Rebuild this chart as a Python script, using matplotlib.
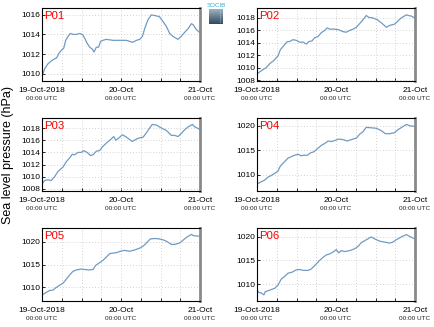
import numpy as np
import matplotlib
matplotlib.use("Agg")
import matplotlib.pyplot as plt
import matplotlib.dates as mdates
import datetime as dt

plt.rcParams['font.family'] = ['Liberation Sans', 'DejaVu Sans']

# ---------------- data (hours since 19-Oct-2018 00:00 UTC, hPa) ----------------
p01_h = [0.0, 0.8, 1.8, 2.8, 3.8, 4.4, 5.2, 5.9, 6.6, 7.2, 7.9, 8.6, 9.6, 10.4, 11.4, 12.3,
         13.0, 13.7, 14.5, 15.3, 15.8, 16.5, 17.2, 17.8, 18.5, 19.5, 21.6, 23.6, 25.6, 26.6,
         27.6, 28.7, 29.7, 30.5, 31.2, 32.2, 33.2, 34.7, 35.7, 36.8, 37.8, 38.8, 39.8, 41.3,
         42.3, 43.3, 44.4, 45.4, 45.9, 46.9, 47.9]
p01_v = [1009.7, 1010.5, 1011.0, 1011.3, 1011.5, 1011.6, 1012.1, 1012.4, 1012.6, 1013.4, 1013.8,
         1014.1, 1014.0, 1014.0, 1014.1, 1014.0, 1013.6, 1013.1, 1012.7, 1012.5, 1012.2, 1012.7,
         1012.7, 1013.3, 1013.4, 1013.5, 1013.4, 1013.4, 1013.4, 1013.3, 1013.2, 1013.4, 1013.5,
         1013.8, 1014.6, 1015.5, 1016.0, 1015.9, 1015.8, 1015.3, 1014.8, 1014.1, 1013.8, 1013.5,
         1013.8, 1014.2, 1014.6, 1015.1, 1015.0, 1014.5, 1014.2]

p02_h = [0.0, 1.3, 2.8, 3.8, 5.2, 6.4, 7.1, 8.4, 9.2, 9.9, 10.9, 11.9, 13.0, 14.0, 15.0, 15.8,
         16.7, 17.5, 18.5, 19.5, 20.6, 21.3, 22.1, 23.6, 24.8, 26.1, 27.1, 28.2, 29.2, 30.2,
         31.2, 32.2, 33.2, 33.9, 35.2, 36.6, 37.8, 39.3, 40.3, 41.8, 42.8, 43.8, 45.4, 45.9,
         46.9, 47.9]
p02_v = [1009.0, 1009.5, 1010.0, 1010.6, 1011.2, 1011.9, 1012.9, 1013.7, 1014.2, 1014.2, 1014.5,
         1014.4, 1014.1, 1014.1, 1013.8, 1014.2, 1014.3, 1014.8, 1015.0, 1015.6, 1016.0, 1016.4,
         1016.2, 1016.2, 1016.1, 1015.8, 1015.7, 1016.0, 1016.2, 1016.5, 1017.1, 1017.7, 1018.4,
         1018.1, 1018.0, 1017.7, 1017.2, 1016.5, 1016.8, 1017.0, 1017.5, 1018.0, 1018.5, 1018.4,
         1018.3, 1018.0]

p03_h = [0.0, 0.8, 1.8, 2.8, 3.8, 4.9, 6.4, 7.4, 8.4, 9.2, 9.9, 10.9, 11.9, 12.7, 13.7, 14.7,
         15.5, 16.5, 17.5, 18.5, 19.5, 20.6, 21.8, 22.4, 23.4, 24.4, 25.4, 26.4, 27.4, 28.7,
         29.7, 30.7, 31.7, 32.7, 33.5, 34.7, 36.3, 37.8, 39.3, 40.3, 41.3, 42.3, 43.3, 44.4,
         45.7, 46.4, 47.9]
p03_v = [1008.8, 1009.4, 1009.5, 1009.4, 1010.0, 1010.9, 1011.6, 1012.5, 1013.1, 1013.7, 1013.6,
         1014.0, 1014.0, 1014.3, 1014.0, 1013.5, 1013.6, 1014.2, 1014.3, 1015.0, 1015.5, 1016.0,
         1016.6, 1016.0, 1016.4, 1016.9, 1016.6, 1016.2, 1015.8, 1016.2, 1016.4, 1016.5, 1017.2,
         1018.0, 1018.6, 1018.5, 1018.0, 1017.6, 1016.8, 1016.8, 1016.6, 1017.1, 1017.7, 1018.2,
         1018.6, 1018.2, 1017.8]

p04_h = [0.0, 1.3, 2.3, 3.3, 4.4, 5.4, 6.4, 7.1, 8.4, 9.4, 10.4, 11.4, 12.5, 13.3, 14.3, 15.3,
         16.3, 17.3, 18.5, 19.5, 20.6, 21.6, 22.6, 23.6, 24.8, 26.1, 27.4, 28.7, 30.2, 31.2,
         32.2, 33.2, 34.7, 36.3, 37.8, 39.0, 40.3, 41.8, 42.8, 44.0, 45.4, 46.4, 47.9]
p04_v = [1008.1, 1008.6, 1008.9, 1009.5, 1009.9, 1010.3, 1010.8, 1011.8, 1012.7, 1013.4, 1013.7,
         1014.0, 1014.2, 1013.9, 1014.0, 1014.0, 1014.5, 1014.7, 1015.4, 1016.0, 1016.4, 1016.9,
         1016.8, 1017.0, 1017.3, 1017.2, 1016.9, 1017.2, 1017.5, 1018.3, 1018.8, 1019.7, 1019.6,
         1019.5, 1019.0, 1018.4, 1018.4, 1018.6, 1019.2, 1019.7, 1020.3, 1020.0, 1019.9]

p05_h = [0.0, 1.3, 2.3, 3.3, 4.4, 5.4, 6.4, 7.4, 8.4, 9.4, 10.4, 11.9, 13.0, 14.3, 15.5, 16.3,
         17.5, 18.5, 19.5, 20.6, 21.6, 22.6, 23.8, 25.1, 26.6, 28.2, 29.7, 30.7, 31.7, 32.9,
         34.2, 35.7, 36.8, 37.8, 39.3, 40.3, 41.8, 42.8, 43.8, 45.4, 46.1, 47.9]
p05_v = [1008.3, 1008.9, 1009.3, 1009.4, 1010.0, 1010.5, 1010.9, 1011.8, 1012.7, 1013.5, 1013.8,
         1014.0, 1013.9, 1013.8, 1013.9, 1014.8, 1015.4, 1015.9, 1016.6, 1017.4, 1017.5, 1017.6,
         1017.9, 1018.1, 1017.9, 1018.2, 1018.6, 1019.0, 1019.7, 1020.6, 1020.7, 1020.6, 1020.4,
         1020.1, 1019.4, 1019.4, 1019.7, 1020.3, 1020.9, 1021.6, 1021.3, 1021.2]

p06_h = [0.0, 0.5, 1.3, 2.1, 2.5, 3.5, 4.6, 5.4, 6.4, 7.4, 8.4, 9.4, 10.6, 11.9, 13.0, 14.0,
         15.5, 16.5, 17.5, 19.0, 20.1, 21.1, 22.1, 23.1, 24.1, 24.8, 25.6, 26.6, 28.2, 29.7,
         30.7, 31.7, 33.2, 34.7, 35.7, 37.3, 38.8, 40.3, 41.3, 42.3, 43.8, 45.4, 46.4, 47.9]
p06_v = [1008.9, 1008.2, 1008.1, 1007.7, 1008.4, 1008.6, 1008.9, 1009.1, 1009.8, 1011.1, 1011.6,
         1012.3, 1012.5, 1013.0, 1013.1, 1012.9, 1012.9, 1013.2, 1013.9, 1015.0, 1015.7, 1016.2,
         1016.4, 1016.8, 1017.3, 1016.6, 1017.1, 1016.9, 1017.1, 1017.5, 1018.0, 1018.8, 1019.4,
         1020.0, 1019.6, 1019.1, 1018.9, 1018.7, 1018.9, 1019.4, 1020.0, 1020.5, 1020.1, 1019.6]

names = ["P01", "P02", "P03", "P04", "P05", "P06"]
hours = [p01_h, p02_h, p03_h, p04_h, p05_h, p06_h]
values = [p01_v, p02_v, p03_v, p04_v, p05_v, p06_v]
ylims = [(1009.25, 1016.7), (1007.85, 1019.6), (1007.67, 1019.65),
         (1006.7, 1021.6), (1007.0, 1023.0), (1006.4, 1021.9)]
yticks = [[1010, 1012, 1014, 1016],
          [1008, 1010, 1012, 1014, 1016, 1018],
          [1008, 1010, 1012, 1014, 1016, 1018],
          [1010, 1015, 1020], [1010, 1015, 1020], [1010, 1015, 1020]]
xtick_dates = ["19-Oct-2018", "20-Oct", "21-Oct"]
xtick_sub = "00:00 UTC"
ylabel = "Sea level pressure (hPa)"

start = dt.datetime(2018, 10, 19, 0, 0)

# ---------------- figure ----------------
W, H = 435, 327
fig = plt.figure(figsize=(W / 100, H / 100), dpi=100)
fig.patch.set_facecolor("white")

lefts = [42, 257]
tops = [8, 118, 228]
ax_w, ax_h = 158, 73

line_color = "#6f9bc4"

for i, name in enumerate(names):
    r, c = divmod(i, 2)
    l = lefts[c] / W
    b = 1 - (tops[r] + ax_h) / H
    ax = fig.add_axes([l, b, ax_w / W, ax_h / H])
    t = [start + dt.timedelta(hours=h) for h in hours[i]]
    ax.plot(t, values[i], color=line_color, lw=0.9)
    ax.set_xlim(start, start + dt.timedelta(hours=48))
    ax.set_ylim(*ylims[i])
    major = [start + dt.timedelta(hours=24 * k) for k in range(3)]
    ax.set_xticks(major)
    ax.set_xticklabels(xtick_dates)
    ax.xaxis.set_minor_locator(mdates.HourLocator(byhour=[0, 6, 12, 18]))
    ax.set_yticks(yticks[i])
    ax.tick_params(axis="both", which="both", direction="in", length=2, width=0.6,
                   labelsize=6, colors="black")
    ax.tick_params(axis="x", pad=4)
    ax.tick_params(axis="y", pad=1.5)
    ax.grid(True, which="both", color="#c4c4c4", lw=0.6, ls=(0, (1, 2.5)))
    for s in ["left", "top", "bottom"]:
        ax.spines[s].set_color("black")
        ax.spines[s].set_linewidth(0.8)
    ax.spines["right"].set_color("#8a8a8a")
    ax.spines["right"].set_linewidth(2.0)
    for d in major:
        ax.annotate(xtick_sub, xy=(mdates.date2num(d), 0), xycoords=("data", "axes fraction"),
                    xytext=(0, -12.5), textcoords="offset points", ha="center", va="center",
                    fontsize=4.6, color="#222222", annotation_clip=False)
    ax.text(0.012, 0.965, name, transform=ax.transAxes, ha="left", va="top",
            fontsize=8.2, color="red")

fig.text(8 / W, 1 - 155 / H, ylabel, rotation=90, ha="center", va="center", fontsize=9)

# logo
lax = fig.add_axes([209 / W, 1 - 24 / H, 14 / W, 15 / H])
grad = np.linspace(0, 1, 50).reshape(-1, 1)
lax.imshow(grad, aspect="auto", cmap=matplotlib.colors.LinearSegmentedColormap.from_list(
    "lg", ["#9fb2c2", "#2f4a5e"]), extent=[0, 1, 0, 1], origin="upper")
lax.plot([0.8, 0.8], [0.15, 0.85], color="white", lw=0.5, ls=(0, (1, 2)))
lax.set_xlim(0, 1); lax.set_ylim(0, 1)
lax.axis("off")
fig.text(216 / W, 1 - 5.5 / H, "SOCIB", ha="center", va="center", fontsize=4.5,
         color="#2ab3d6")

fig.savefig("out.png", dpi=100)
